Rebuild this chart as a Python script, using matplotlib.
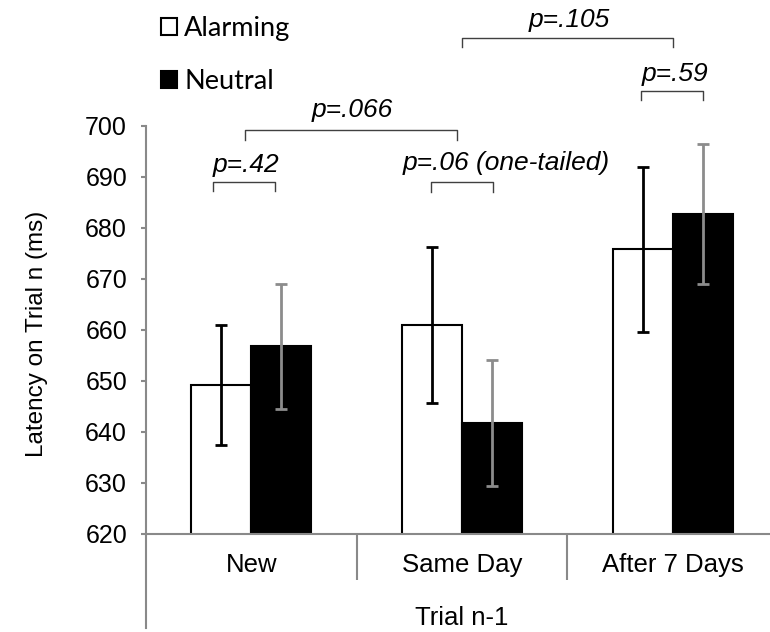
import numpy as np
import matplotlib
matplotlib.use('Agg')
import matplotlib.pyplot as plt

# Datos
categorias = ['New', 'Same Day', 'After 7 Days']
alarming = [649.2, 661.0, 675.8]
neutral = [656.8, 641.8, 682.8]
alarming_err = [11.8, 15.3, 16.2]
neutral_err = [12.3, 12.4, 13.7]

# Comparaciones (x0, x1, y, texto, x del texto, y del texto)
comparaciones = [
    (-0.182, 0.1125, 689.1, 'p=.42', -0.182, 690.9),
    (-0.030, 0.975, 699.2, 'p=.066', 0.288, 701.8),
    (0.852, 1.146, 689.0, 'p=.06 (one-tailed)', 0.719, 691.4),
    (1.0, 2.002, 717.3, 'p=.105', 1.318, 719.5),
    (1.850, 2.143, 706.9, 'p=.59', 1.853, 708.8),
]

gris = '#898989'
plt.rcParams['font.family'] = ['Liberation Sans', 'DejaVu Sans']

fig = plt.figure(figsize=(7.7, 6.32), dpi=100)
ax = fig.add_axes([146 / 770, 98 / 632, 632 / 770, 408 / 632])

x = np.arange(len(categorias))
w = 0.285
b1 = ax.bar(x - w / 2, alarming, w, color='white', edgecolor='black', linewidth=1.5, label='Alarming')
b2 = ax.bar(x + w / 2, neutral, w, color='black', edgecolor='black', linewidth=1.5, label='Neutral')
ax.errorbar(x - w / 2, alarming, yerr=alarming_err, fmt='none', ecolor='black',
            elinewidth=2, capsize=4.3, capthick=2, zorder=3)
ax.errorbar(x + w / 2, neutral, yerr=neutral_err, fmt='none', ecolor='#8c8c8c',
            elinewidth=2, capsize=4.3, capthick=2, zorder=3)

ax.set_xlim(-0.5, 2.5)
ax.set_ylim(620, 700)
ax.set_yticks(range(620, 701, 10))
ax.set_xticks(x, categorias)
ax.set_xticks([0.5, 1.5], minor=True)

for lado in ['top', 'right']:
    ax.spines[lado].set_visible(False)
for lado in ['left', 'bottom']:
    ax.spines[lado].set_color(gris)
    ax.spines[lado].set_linewidth(1.5)

ax.tick_params(axis='y', direction='out', length=3.6, width=1.5, color=gris,
               labelsize=18, pad=10)
ax.tick_params(axis='x', which='major', length=0, labelsize=18.5, pad=14)
ax.tick_params(axis='x', which='minor', direction='out', length=33, width=1.5, color=gris)

# prolongación del eje izquierdo hacia abajo (estilo Excel)
ax.plot([0, 0], [0, -0.23], transform=ax.transAxes, color=gris, lw=1.5, clip_on=False)

ax.text(0.5, -0.205, 'Trial n-1', transform=ax.transAxes, ha='center', va='center', fontsize=18.5)
fig.text(37 / 770, 1 - 334 / 632, 'Latency on Trial n (ms)', rotation=90,
         ha='center', va='center', fontsize=17.5)

# corchetes con valores p
for x0, x1, y, texto, tx, ty in comparaciones:
    ax.plot([x0, x0, x1, x1], [y - 1.9, y, y, y - 1.9], color='#404040', lw=1, clip_on=False)
    ax.text(tx, ty, texto, style='italic', fontsize=19, ha='left', va='baseline')

ax.legend(handles=[b1, b2], loc='upper left', bbox_to_anchor=(161 / 770, 1 - 16 / 632),
          bbox_transform=fig.transFigure, frameon=False, borderpad=0, borderaxespad=0,
          handlelength=0.6, handleheight=0.6, handletextpad=0.25, labelspacing=1.05,
          prop={'family': 'Lato', 'size': 19.5})

fig.savefig('out.png', dpi=100)
